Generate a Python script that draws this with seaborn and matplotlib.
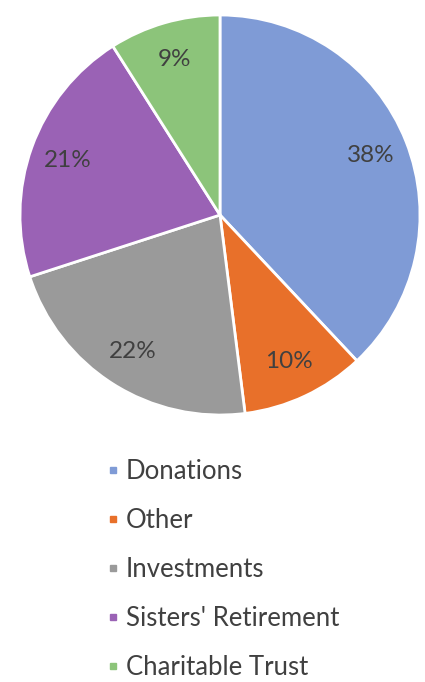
import matplotlib
matplotlib.use("Agg")
import matplotlib.pyplot as plt
from matplotlib.lines import Line2D
import seaborn as sns

categories = ["Donations", "Other", "Investments", "Sisters' Retirement", "Charitable Trust"]
shares = [38, 10, 22, 21, 9]
colors = ["#7f9bd6", "#e8702a", "#9a9a9a", "#9a62b5", "#8cc47a"]

sns.set_theme(style="white")
plt.rcParams["font.family"] = ["Lato", "DejaVu Sans"]

fig = plt.figure(figsize=(4.25, 6.82), dpi=100)
ax = fig.add_axes([18 / 425, 1 - 417 / 682, 404 / 425, 404 / 682])

wedges, texts = ax.pie(
    shares,
    colors=colors,
    startangle=90,
    counterclock=False,
    labels=[f"{v}%" for v in shares],
    labeldistance=0.81,
    wedgeprops={"edgecolor": "white", "linewidth": 2},
    textprops={"fontsize": 17.5, "color": "#404040"},
)
for t in texts:
    t.set_ha("center")
    t.set_va("center")
ax.set_xlim(-1.01, 1.01)
ax.set_ylim(-1.01, 1.01)
ax.set_aspect("equal")
ax.axis("off")

handles = [
    Line2D([], [], marker="s", linestyle="", markersize=4.5, color=c)
    for c in colors
]
fig.legend(
    handles,
    categories,
    loc="upper left",
    bbox_to_anchor=(96 / 425, 1 - 449 / 682),
    frameon=False,
    fontsize=18.5,
    labelcolor="#404040",
    labelspacing=0.93,
    handletextpad=0.25,
    handlelength=0.5,
    borderaxespad=0,
)

fig.savefig("out.png", dpi=100)
